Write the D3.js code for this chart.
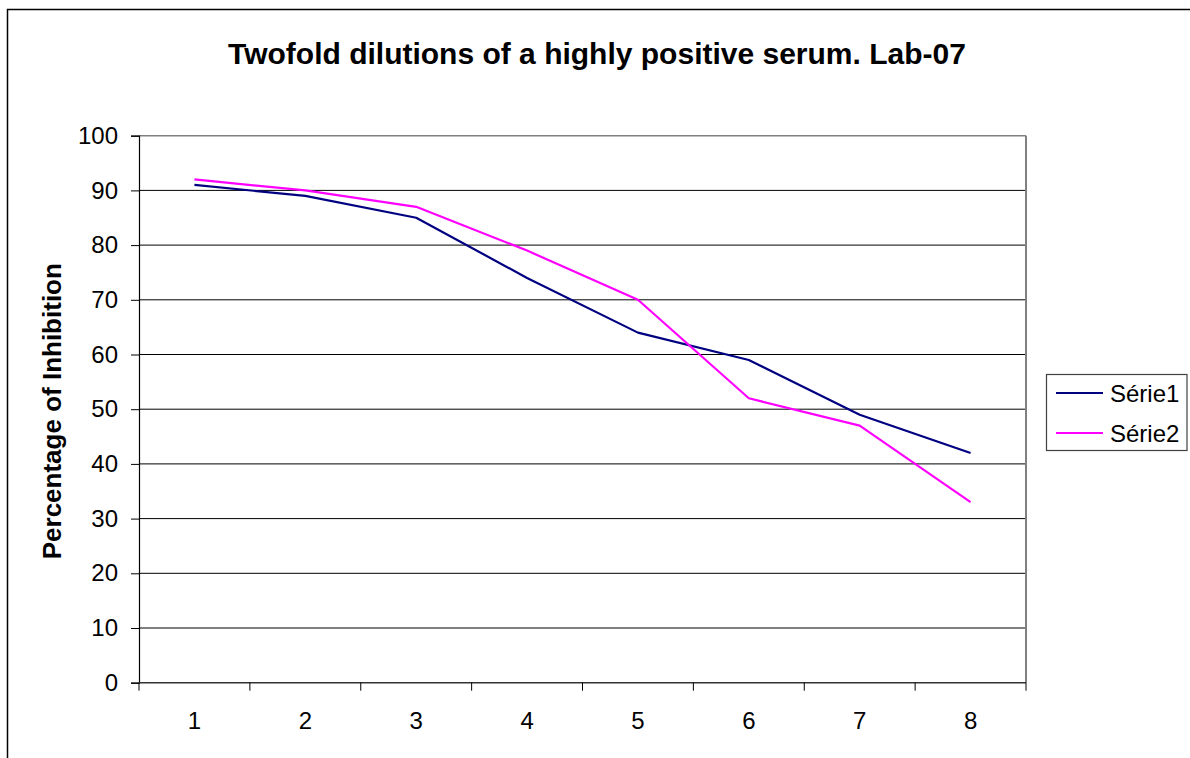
<!DOCTYPE html>
<html>
<head>
<meta charset="utf-8">
<script src="https://cdn.jsdelivr.net/npm/d3@7/dist/d3.min.js"></script>
<style>
  html, body { margin: 0; padding: 0; background: #fff; }
  svg { display: block; font-family: "Liberation Sans", Arial, sans-serif; }
</style>
</head>
<body>
<svg id="chart" width="1190" height="758"></svg>
<script>
// Dilution steps and inhibition percentages per series
const categories = ["1", "2", "3", "4", "5", "6", "7", "8"];
const serie1 = [91, 89, 85, 74, 64, 59, 49, 42];
const serie2 = [92, 90, 87, 79, 70, 52, 47, 33];
const seriesNames = ["Série1", "Série2"];
const seriesColors = ["#000080", "#FF00FF"];
const yTicks = [0, 10, 20, 30, 40, 50, 60, 70, 80, 90, 100];

const titleText = "Twofold dilutions of a highly positive serum. Lab-07";
const yTitleText = "Percentage of Inhibition";

const svg = d3.select("#chart");

// Outer chart frame (runs past the right and bottom edges)
svg.append("rect")
  .attr("x", 7.5).attr("y", 9.5)
  .attr("width", 1400).attr("height", 900)
  .attr("fill", "#fff").attr("stroke", "#000").attr("stroke-width", 1.5);

const plot = { left: 139, top: 135.7, right: 1026, bottom: 682.7 };

const x = d3.scaleBand().domain(categories).range([plot.left, plot.right]).padding(0);
const y = d3.scaleLinear().domain([0, 100]).range([plot.bottom, plot.top]);

// Horizontal gridlines
svg.append("g")
  .selectAll("line")
  .data(yTicks.filter(d => d > 0))
  .join("line")
  .attr("x1", plot.left).attr("x2", plot.right)
  .attr("y1", d => y(d)).attr("y2", d => y(d))
  .attr("stroke", d => d === 100 ? "#808080" : "#000")
  .attr("stroke-width", d => d === 100 ? 1.5 : 1);

// Right border of the plot area
svg.append("line")
  .attr("x1", plot.right).attr("x2", plot.right)
  .attr("y1", plot.top).attr("y2", plot.bottom)
  .attr("stroke", "#808080").attr("stroke-width", 2);

// Y axis
const yAxis = svg.append("g")
  .attr("transform", `translate(${plot.left},0)`)
  .call(d3.axisLeft(y).tickValues(yTicks).tickSize(8).tickPadding(13));
yAxis.select(".domain").attr("stroke", "#000").attr("stroke-width", 1.2);
yAxis.selectAll(".tick line").attr("stroke", "#000");
yAxis.selectAll(".tick text")
  .attr("font-size", 24).attr("fill", "#000")
  .attr("font-family", "Liberation Sans, Arial, sans-serif");

// X axis with ticks on category boundaries
const xAxis = svg.append("g")
  .attr("transform", `translate(0,${plot.bottom})`)
  .call(d3.axisBottom(x).tickSize(0).tickPadding(29));
xAxis.select(".domain").remove();
xAxis.selectAll(".tick text")
  .attr("font-size", 24).attr("fill", "#000")
  .attr("font-family", "Liberation Sans, Arial, sans-serif");
svg.append("line")
  .attr("x1", plot.left).attr("x2", plot.right)
  .attr("y1", plot.bottom).attr("y2", plot.bottom)
  .attr("stroke", "#333").attr("stroke-width", 1.5);
const boundaries = categories.map(c => x(c)).concat([x(categories[categories.length - 1]) + x.bandwidth()]);
svg.append("g")
  .selectAll("line")
  .data(boundaries)
  .join("line")
  .attr("x1", d => d).attr("x2", d => d)
  .attr("y1", plot.bottom).attr("y2", plot.bottom + 8)
  .attr("stroke", "#000");

// Series lines
const line = d3.line()
  .x((d, i) => x(categories[i]) + x.bandwidth() / 2)
  .y(d => y(d));
[serie1, serie2].forEach((vals, k) => {
  svg.append("path")
    .datum(vals)
    .attr("d", line)
    .attr("fill", "none")
    .attr("stroke", seriesColors[k])
    .attr("stroke-width", 2.2)
    .attr("stroke-linejoin", "round");
});

// Title
svg.append("text")
  .attr("x", 597).attr("y", 64)
  .attr("text-anchor", "middle")
  .attr("font-size", 30).attr("font-weight", "bold")
  .text(titleText);

// Y axis title
svg.append("text")
  .attr("transform", `translate(61,${(plot.top + plot.bottom) / 2 + 2}) rotate(-90)`)
  .attr("text-anchor", "middle")
  .attr("font-size", 26).attr("font-weight", "bold")
  .text(yTitleText);

// Legend
const legend = svg.append("g");
legend.append("rect")
  .attr("x", 1046.5).attr("y", 374.5)
  .attr("width", 140.5).attr("height", 76)
  .attr("fill", "#fff").attr("stroke", "#404040").attr("stroke-width", 1.2);
seriesNames.forEach((name, k) => {
  const cy = 393 + k * 40;
  legend.append("line")
    .attr("x1", 1056).attr("x2", 1103)
    .attr("y1", cy).attr("y2", cy)
    .attr("stroke", seriesColors[k]).attr("stroke-width", 2.2);
  legend.append("text")
    .attr("x", 1110).attr("y", cy + 8.5)
    .attr("font-size", 24)
    .text(name);
});
</script>
</body>
</html>
